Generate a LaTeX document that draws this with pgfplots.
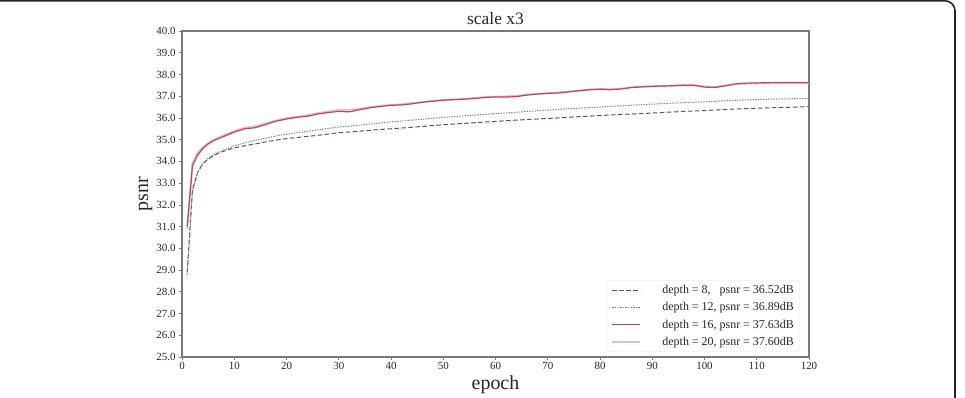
\documentclass[border=0pt]{standalone}
\usepackage{fontspec}
\setmainfont{Liberation Serif}
\usepackage{pgfplots}
\pgfplotsset{compat=1.18}
\definecolor{cA}{RGB}{78,84,124}
\definecolor{cB}{RGB}{100,135,115}
\definecolor{cC}{RGB}{188,70,92}
\definecolor{cD}{RGB}{225,190,198}
\definecolor{frame}{RGB}{120,120,120}
\begin{document}
\begin{tikzpicture}
\useasboundingbox (0,0) rectangle (965bp,398bp);
\draw[line width=1.6bp, black!85] (0,397.2bp) -- (945bp,397.2bp) arc[start angle=90,end angle=0,radius=10bp] -- (955bp,0);
\begin{axis}[
  at={(182bp,41bp)}, anchor=south west,
  scale only axis, width=627bp, height=326bp,
  xmin=0, xmax=120, ymin=25, ymax=40,
  xtick={0,10,...,120}, ytick={25,26,...,40},
  /pgf/number format/assume math mode=true,
  yticklabel style={/pgf/number format/.cd, fixed, fixed zerofill, precision=1},
  tick label style={font=\fontsize{11}{12}\selectfont, text=black!85},
  xticklabel style={yshift=1bp},
  tick align=outside, tick pos=left,
  major tick length=3bp,
  axis line style={frame, line width=1.1bp},
  every tick/.style={frame, line width=0.7bp},
  title={scale x3},
  title style={font=\fontsize{17.5}{19}\selectfont, yshift=-3bp, text=black!85},
  xlabel={epoch}, ylabel={psnr},
  xlabel style={font=\fontsize{20}{22}\selectfont, yshift=1bp, text=black!85},
  ylabel style={font=\fontsize{20}{22}\selectfont, yshift=-3bp, text=black!85},
  legend style={at={(1,0)}, anchor=south east, xshift=-9bp, yshift=5bp,
    draw=black!12, rounded corners=2bp, font=\fontsize{12}{13}\selectfont,
    row sep=3.5bp, inner xsep=4bp, inner ysep=3bp, text=black!85},
  legend cell align=left,
  legend image code/.code={\path[draw=none] (0bp,0bp) -- (48bp,0bp); \draw[#1] (0bp,0bp) -- (28bp,0bp);},
]
\addplot[cA, line width=1bp, dash pattern=on 4.5bp off 2.5bp] coordinates {
(1,28.9)(2,32.7)(3,33.5)(4,33.9)(5,34.1)(6,34.25)(7,34.38)(8,34.47)(9,34.55)(10,34.62)
(12,34.72)(14,34.8)(16,34.9)(18,34.98)(20,35.05)(22,35.1)(24,35.15)(26,35.2)(28,35.26)(30,35.32)
(32,35.35)(34,35.39)(36,35.43)(38,35.47)(40,35.5)(44,35.57)(48,35.65)(52,35.72)(56,35.78)(60,35.84)
(64,35.9)(68,35.95)(72,36.0)(76,36.06)(80,36.11)(84,36.16)(88,36.2)(92,36.25)(96,36.3)(100,36.34)
(104,36.39)(108,36.43)(112,36.46)(116,36.49)(120,36.52)};
\addlegendentry{depth = 8,\ \ \ psnr = 36.52dB}
\addplot[cB, line width=1bp, dash pattern=on 1.3bp off 1.3bp] coordinates {
(1,28.8)(2,32.6)(3,33.5)(4,33.9)(5,34.15)(6,34.3)(7,34.42)(8,34.52)(9,34.62)(10,34.72)
(12,34.85)(14,34.97)(16,35.07)(18,35.17)(20,35.25)(22,35.32)(24,35.38)(26,35.45)(28,35.52)(30,35.58)
(32,35.62)(34,35.67)(36,35.72)(38,35.77)(40,35.82)(44,35.9)(48,35.98)(52,36.06)(56,36.13)(60,36.2)
(64,36.26)(68,36.33)(72,36.39)(76,36.45)(80,36.5)(84,36.56)(88,36.61)(92,36.66)(96,36.7)(100,36.74)
(104,36.79)(108,36.83)(112,36.86)(116,36.88)(120,36.89)};
\addlegendentry{depth = 12, psnr = 36.89dB}
\addplot[cD, line width=1.8bp, forget plot] coordinates {
(1,30.9)(2,33.9)(3,34.4)(4,34.65)(5,34.85)(6,35.0)(7,35.1)(8,35.2)(9,35.3)(10,35.4)
(12,35.55)(14,35.62)(16,35.75)(18,35.88)(20,36.0)(22,36.05)(24,36.12)(26,36.22)(28,36.3)(30,36.36)
(32,36.38)(34,36.43)(36,36.5)(38,36.56)(40,36.6)(42,36.63)(44,36.68)(46,36.74)(48,36.78)(50,36.82)
(52,36.85)(54,36.88)(56,36.92)(58,36.96)(60,36.98)(62,36.99)(64,37.02)(66,37.07)(68,37.11)(70,37.14)
(72,37.17)(74,37.21)(76,37.26)(78,37.3)(80,37.33)(82,37.32)(84,37.35)(86,37.41)(88,37.44)(90,37.46)
(92,37.47)(94,37.49)(96,37.51)(98,37.5)(100,37.45)(102,37.42)(104,37.49)(106,37.56)(108,37.58)(110,37.59)
(112,37.6)(114,37.6)(116,37.6)(118,37.6)(120,37.6)};
\addplot[cC, line width=1.2bp] coordinates {
(1,31.0)(2,33.8)(3,34.3)(4,34.6)(5,34.8)(6,34.95)(7,35.05)(8,35.15)(9,35.25)(10,35.35)
(12,35.5)(14,35.55)(16,35.7)(18,35.85)(20,35.95)(22,36.03)(24,36.08)(26,36.18)(28,36.25)(30,36.3)
(32,36.28)(34,36.38)(36,36.47)(38,36.53)(40,36.58)(42,36.6)(44,36.65)(46,36.72)(48,36.77)(50,36.82)
(52,36.84)(54,36.86)(56,36.9)(58,36.94)(60,36.97)(62,36.96)(64,36.98)(66,37.05)(68,37.1)(70,37.13)
(72,37.15)(74,37.2)(76,37.25)(78,37.3)(80,37.32)(82,37.3)(84,37.33)(86,37.4)(88,37.43)(90,37.45)
(92,37.47)(94,37.48)(96,37.5)(98,37.5)(100,37.42)(102,37.4)(104,37.48)(106,37.57)(108,37.6)(110,37.61)
(112,37.62)(114,37.63)(116,37.63)(118,37.63)(120,37.63)};
\addlegendentry{depth = 16, psnr = 37.63dB}
\addlegendimage{cD, line width=1.8bp}
\addlegendentry{depth = 20, psnr = 37.60dB}
\end{axis}
\end{tikzpicture}
\end{document}
